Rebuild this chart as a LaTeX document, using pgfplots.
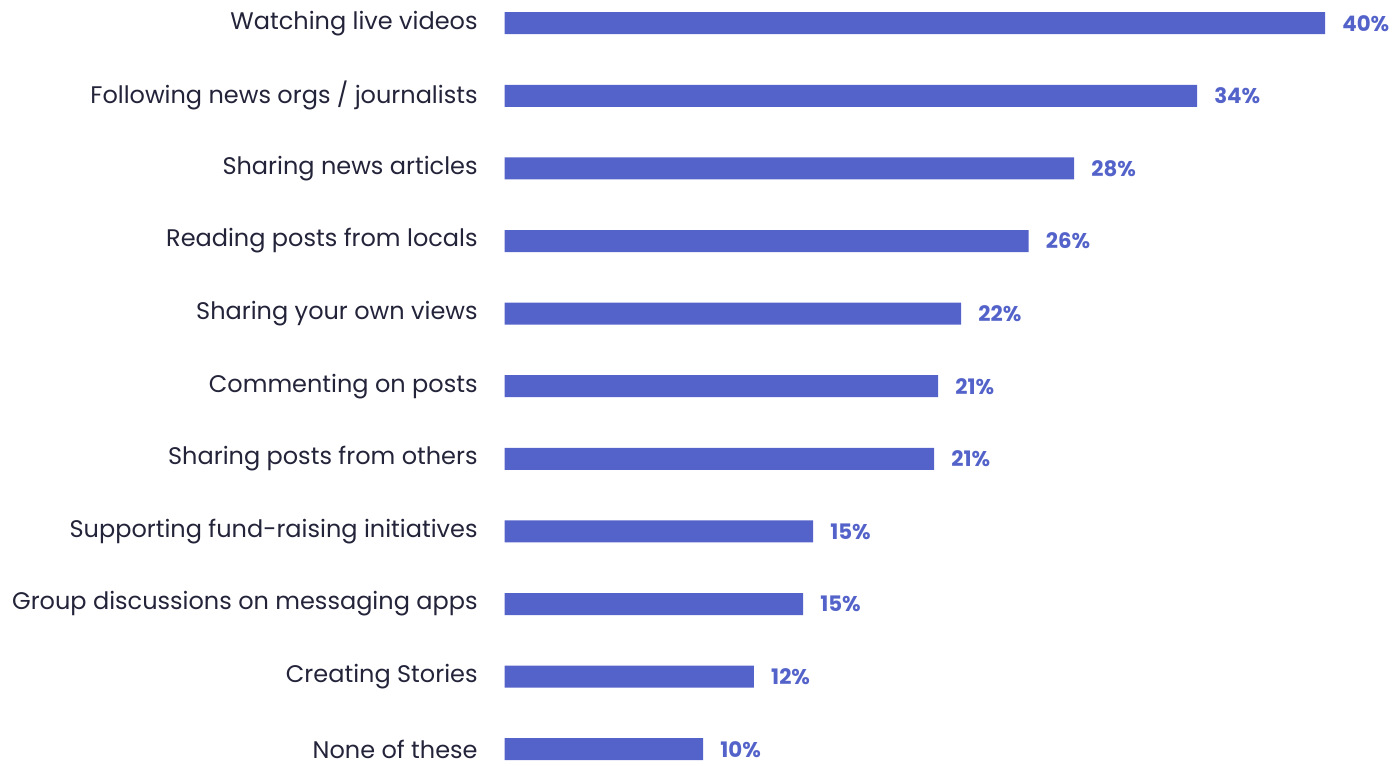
\documentclass[border=0pt]{standalone}
\usepackage{pgfplots}
\pgfplotsset{compat=1.18}
\usepackage{fontspec}
\setmainfont{Poppins}
\definecolor{barblue}{HTML}{5463C9}
\definecolor{labeltext}{HTML}{23233A}

\begin{document}
\begin{tikzpicture}[x=1pt,y=1pt]
% fixed canvas: 1392 x 765 px at 0.75pt per px
\useasboundingbox (0,0) rectangle (1044,-573.75);
\begin{axis}[
  at={(378.4pt,-17.4pt)}, anchor=origin,
  x=15.385pt, y=54.45pt, y dir=reverse,
  scale only axis,
  xmin=0, xmax=42, ymin=-0.45, ymax=10.45,
  xbar, bar width=16.5pt, bar shift=0pt,
  axis line style={draw=none},
  major tick length=0pt,
  xtick=\empty,
  ytick={0,...,10},
  yticklabels={
    Watching live videos,
    Following news orgs / journalists,
    Sharing news articles,
    Reading posts from locals,
    Sharing your own views,
    Commenting on posts,
    Sharing posts from others,
    Supporting fund-raising initiatives,
    Group discussions on messaging apps,
    Creating Stories,
    None of these},
  yticklabel style={font=\fontsize{18}{20}\selectfont, text=labeltext,
    anchor=east, inner sep=0pt, xshift=-20pt},
  /pgf/number format/assume math mode=true,
  nodes near coords={\pgfmathprintnumber[fixed,precision=0,assume math mode=true]{\pgfplotspointmeta}\%},
  point meta=x,
  nodes near coords style={font=\fontsize{16}{18}\selectfont\bfseries,
    text=barblue, anchor=west, inner sep=0pt, xshift=12.75pt},
  clip=false,
]
\addplot[fill=barblue, draw=none] coordinates {
  (40.00,0) (33.76,1) (27.77,2) (25.55,3) (22.26,4) (21.14,5)
  (20.94,6) (15.04,7) (14.55,8) (12.16,9) (9.68,10)
};
\end{axis}
\end{tikzpicture}
\end{document}
